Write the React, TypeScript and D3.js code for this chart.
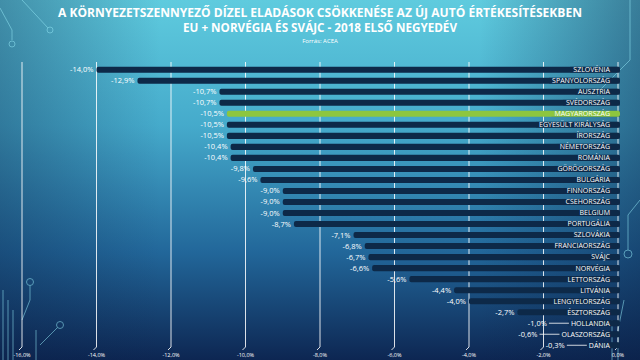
import { useEffect, useRef } from 'react';
import * as d3 from 'd3';

const countries = [
  'Szlovénia', 'Spanyolország', 'Ausztria', 'Svédország', 'Magyarország',
  'Egyesült Királyság', 'Írország', 'Németország', 'Románia', 'Görögország',
  'Bulgária', 'Finnország', 'Csehország', 'Belgium', 'Portugália',
  'Szlovákia', 'Franciaország', 'Svájc', 'Norvégia', 'Lettország',
  'Litvánia', 'Lengyelország', 'Észtország', 'Hollandia', 'Olaszország', 'Dánia',
];
const changes = [
  -14.0, -12.9, -10.7, -10.7, -10.5, -10.5, -10.5, -10.4, -10.4, -9.8,
  -9.6, -9.0, -9.0, -9.0, -8.7, -7.1, -6.8, -6.7, -6.6, -5.6,
  -4.4, -4.0, -2.7, -1.0, -0.6, -0.3,
];
const tickValues = [-16, -14, -12, -10, -8, -6, -4, -2, 0];
const highlight = 'Magyarország';

const titleLines = [
  'A KÖRNYEZETSZENNYEZŐ DÍZEL ELADÁSOK CSÖKKENÉSE AZ ÚJ AUTÓ ÉRTÉKESÍTÉSEKBEN',
  'EU + NORVÉGIA ÉS SVÁJC - 2018 ELSŐ NEGYEDÉV',
];
const sourceText = 'Forrás: ACEA';

const fmt = (v: number) => v.toFixed(1).replace('.', ',') + '%';

export default function App() {
  const svgRef = useRef<SVGSVGElement>(null);

  useEffect(() => {
    const width = 640;
    const height = 360;
    const svg = d3.select(svgRef.current);
    svg.selectAll('*').remove();

    // background
    const defs = svg.append('defs');
    const grad = defs.append('linearGradient').attr('id', 'bg')
      .attr('x1', 0).attr('y1', 0).attr('x2', 0).attr('y2', 1);
    grad.append('stop').attr('offset', '0%').attr('stop-color', '#5fcbde');
    grad.append('stop').attr('offset', '35%').attr('stop-color', '#45aacb');
    grad.append('stop').attr('offset', '70%').attr('stop-color', '#22679a');
    grad.append('stop').attr('offset', '100%').attr('stop-color', '#0d2652');
    const side = defs.append('linearGradient').attr('id', 'side')
      .attr('x1', 0).attr('y1', 0).attr('x2', 1).attr('y2', 0);
    side.append('stop').attr('offset', '0%').attr('stop-color', '#0a1f45').attr('stop-opacity', 0.35);
    side.append('stop').attr('offset', '25%').attr('stop-color', '#0a1f45').attr('stop-opacity', 0);
    side.append('stop').attr('offset', '75%').attr('stop-color', '#0a1f45').attr('stop-opacity', 0);
    side.append('stop').attr('offset', '100%').attr('stop-color', '#0a1f45').attr('stop-opacity', 0.45);
    svg.append('rect').attr('width', width).attr('height', height).attr('fill', 'url(#bg)');
    svg.append('rect').attr('width', width).attr('height', height).attr('fill', 'url(#side)');

    // circuit decoration
    const deco = svg.append('g').attr('fill', 'none').attr('stroke', '#8fe3f2')
      .attr('stroke-width', 1).attr('opacity', 0.55);
    ['M0,8 L12,30 L12,40', 'M22,0 L48,28', 'M3,290 L3,360', 'M8,300 L8,360',
      'M13,310 L13,360', 'M22,320 L30,300 L30,285', 'M36,330 L36,360',
      'M40,345 L58,327', 'M630,0 L630,60 L600,90', 'M624,300 L618,330 L618,360',
      'M612,320 L612,360', 'M640,200 L628,215 L628,250'].forEach((p) => deco.append('path').attr('d', p));
    [[12, 44, 3], [50, 30, 3], [30, 282, 3.5], [60, 325, 3.5], [628, 254, 4], [598, 92, 3]]
      .forEach(([cx, cy, r]) => deco.append('circle').attr('cx', cx).attr('cy', cy).attr('r', r));

    // title
    const title = svg.append('g').attr('fill', '#ffffff').attr('text-anchor', 'middle')
      .style('font-family', '"Open Sans", sans-serif');
    title.append('text').attr('x', 320).attr('y', 17).text(titleLines[0])
      .attr('textLength', 524).attr('lengthAdjust', 'spacingAndGlyphs')
      .style('font-size', '11.5px').style('font-weight', 700);
    title.append('text').attr('x', 320).attr('y', 32).text(titleLines[1])
      .attr('textLength', 274).attr('lengthAdjust', 'spacingAndGlyphs')
      .style('font-size', '11.5px').style('font-weight', 700);
    title.append('text').attr('x', 320).attr('y', 43).text(sourceText)
      .style('font-size', '6px');

    // scales
    const x = d3.scaleLinear().domain([-16, 0]).range([22, 618]);
    const y = d3.scaleBand().domain(countries).range([64.5, 350.5]).paddingInner(0.45).paddingOuter(0.2);
    const top = 62;
    const bottom = 350;

    // gridlines
    const grid = svg.append('g');
    tickValues.forEach((t) => {
      grid.append('path')
        .attr('d', `M${x(t)},${top} L${x(t)},${bottom - 3} L${x(t) - 3},${bottom}`)
        .attr('fill', 'none').attr('stroke', '#ffffff').attr('stroke-width', 1).attr('opacity', 0.85);
      grid.append('text').attr('x', x(t)).attr('y', 357).attr('text-anchor', 'middle')
        .attr('fill', '#ffffff').style('font-family', '"Open Sans", sans-serif')
        .style('font-size', '5.5px').text(fmt(t));
    });

    const rows = countries.map((c, i) => ({ name: c, value: changes[i] }));
    const labelRight = 610;
    const g = svg.append('g').style('font-family', '"Open Sans", sans-serif');

    rows.forEach((d) => {
      const yc = (y(d.name) as number) + y.bandwidth() / 2;
      const label = g.append('text').attr('x', labelRight).attr('y', yc + 2.4)
        .attr('text-anchor', 'end').attr('fill', '#ffffff')
        .style('font-size', '7px').text(d.name.toUpperCase());
      const lw = (label.node() as SVGTextElement).getComputedTextLength();
      const labelLeft = labelRight - lw - 3;

      // dark band behind label
      g.insert('rect', 'text').attr('x', labelLeft).attr('y', y(d.name) as number)
        .attr('width', x(0) + 2 - labelLeft).attr('height', y.bandwidth())
        .attr('fill', '#0e2a4c').attr('opacity', 0.45);

      // bar
      g.insert('rect', 'text').attr('x', x(d.value)).attr('y', y(d.name) as number)
        .attr('width', x(0) + 2 - x(d.value)).attr('height', y.bandwidth())
        .attr('rx', 2)
        .attr('fill', d.name === highlight ? '#8dc63f' : '#0d2948');

      const short = x(d.value) > labelLeft;
      const anchorX = short ? labelLeft - 18 : x(d.value);
      const vt = g.append('text').attr('x', anchorX - 3).attr('y', yc + 2.5)
        .attr('text-anchor', 'end').attr('fill', '#ffffff')
        .style('font-size', '7.5px').text(fmt(d.value));
      if (short) {
        g.append('line').attr('x1', anchorX - 1).attr('x2', labelLeft + 1)
          .attr('y1', yc).attr('y2', yc).attr('stroke', '#ffffff').attr('stroke-width', 0.8);
      }
      vt.raise();
    });
  }, []);

  return (
    <svg ref={svgRef} width={640} height={360}
      style={{ position: 'absolute', left: 0, top: 0, display: 'block' }} />
  );
}
